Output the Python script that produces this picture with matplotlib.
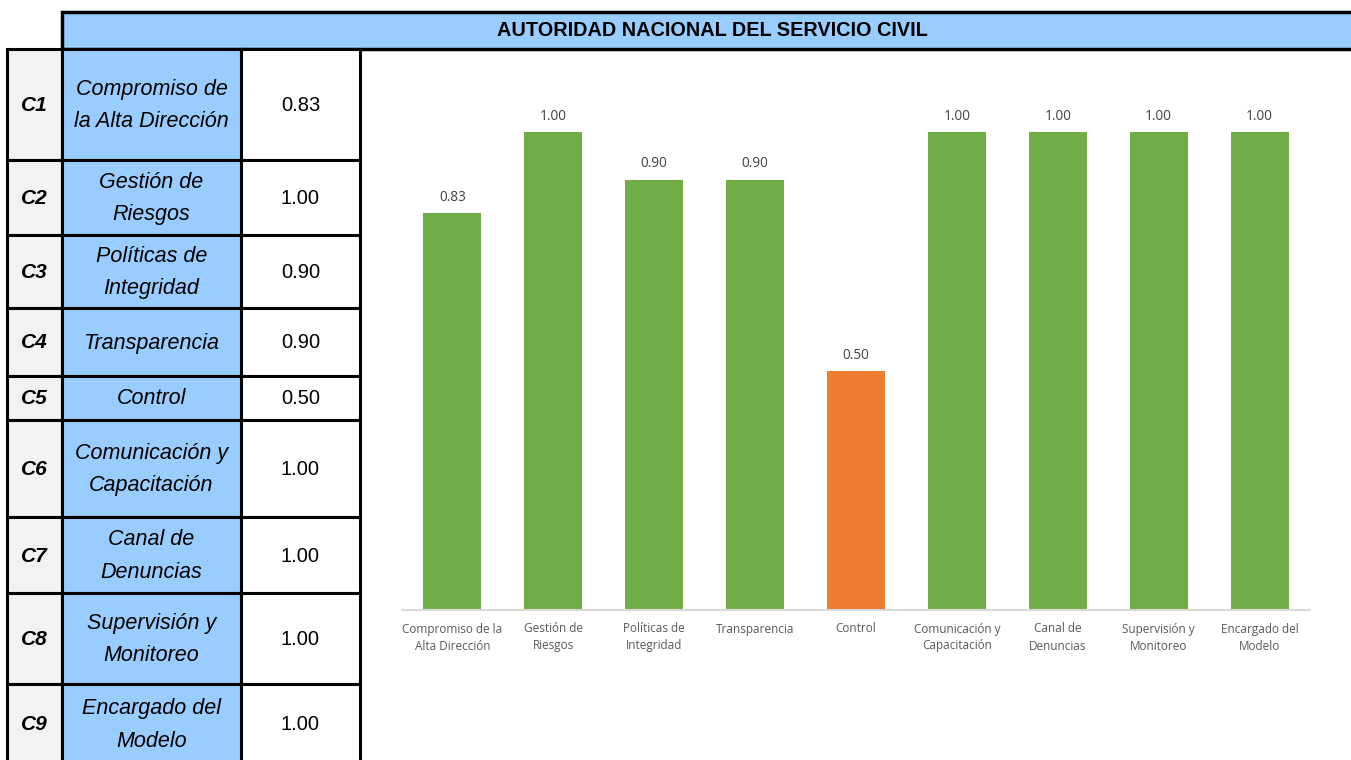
import matplotlib
matplotlib.use("Agg")
import matplotlib.pyplot as plt
from matplotlib.patches import Rectangle

# ---------------- data ----------------
codes = ["C1", "C2", "C3", "C4", "C5", "C6", "C7", "C8", "C9"]
table_names = ["Compromiso de\nla Alta Dirección", "Gestión de\nRiesgos", "Políticas de\nIntegridad",
               "Transparencia", "Control", "Comunicación y\nCapacitación", "Canal de\nDenuncias",
               "Supervisión y\nMonitoreo", "Encargado del\nModelo"]
tick_labels = ["Compromiso de la\nAlta Dirección", "Gestión de\nRiesgos", "Políticas de\nIntegridad",
               "Transparencia", "Control", "Comunicación y\nCapacitación", "Canal de\nDenuncias",
               "Supervisión y\nMonitoreo", "Encargado del\nModelo"]
values = [0.83, 1.00, 0.90, 0.90, 0.50, 1.00, 1.00, 1.00, 1.00]
bar_colors = ["#70AD47", "#70AD47", "#70AD47", "#70AD47", "#ED7D31",
              "#70AD47", "#70AD47", "#70AD47", "#70AD47"]
title = "AUTORIDAD NACIONAL DEL SERVICIO CIVIL"

# ---------------- layout ----------------
W, H = 1351, 760
fig = plt.figure(figsize=(W / 100, H / 100), dpi=100)
bg = fig.add_axes([0, 0, 1, 1])
bg.set_xlim(0, W)
bg.set_ylim(H, 0)
bg.axis("off")

narrow = ["Liberation Sans Narrow", "Liberation Sans", "DejaVu Sans"]
sans = ["Open Sans", "DejaVu Sans"]

# header band
bg.add_patch(Rectangle((62, 12), W - 62 + 5, 37, facecolor="#99CCFF", edgecolor="black", lw=2.5, zorder=2))
bg.text(712, 31, title, ha="center", va="center", fontsize=14.3, fontweight="bold",
        family=narrow, zorder=3)

# table
row_edges = [49, 160, 235, 308, 376, 420, 517, 593, 684, 775]
col_edges = [7, 62, 241, 360]
col_fill = ["#F2F2F2", "#99CCFF", "#FFFFFF"]
for i in range(len(codes)):
    y0, y1 = row_edges[i], row_edges[i + 1]
    for j in range(3):
        bg.add_patch(Rectangle((col_edges[j], y0), col_edges[j + 1] - col_edges[j], y1 - y0,
                               facecolor=col_fill[j], edgecolor="black", lw=2.2, zorder=2))
    yc = (y0 + y1) / 2 + 1 if i < len(codes) - 1 else (y0 + 760) / 2 + 3
    bg.text((col_edges[0] + col_edges[1]) / 2, yc, codes[i], ha="center", va="center",
            fontsize=15, fontweight="bold", style="italic", family=narrow, zorder=3)
    bg.text((col_edges[1] + col_edges[2]) / 2, yc, table_names[i], ha="center", va="center",
            fontsize=15.5, style="italic", family=narrow, linespacing=1.72, zorder=3)
    bg.text((col_edges[2] + col_edges[3]) / 2, yc, f"{values[i]:.2f}", ha="center", va="center",
            fontsize=14.5, family=narrow, zorder=3)

# chart
x0, x1 = 402, 1310
ybase = 610
ymax = 1.1
px_per_unit = 478
top = ybase - ymax * px_per_unit
ax = fig.add_axes([x0 / W, 1 - ybase / H, (x1 - x0) / W, (ybase - top) / H])
xs = list(range(len(values)))
bars = ax.bar(xs, values, width=0.575, color=bar_colors, zorder=2)
ax.set_xlim(-0.5, len(values) - 0.5)
ax.set_ylim(0, ymax)
for s in ["top", "right", "left"]:
    ax.spines[s].set_visible(False)
ax.spines["bottom"].set_color("#D9D9D9")
ax.spines["bottom"].set_linewidth(1.5)
ax.set_yticks([])
ax.set_xticks(xs)
ax.set_xticklabels(tick_labels, fontsize=8.5, color="#595959", linespacing=1.4, family=sans)
ax.tick_params(axis="x", length=0, pad=9)
ax.patch.set_alpha(0)
for b, v in zip(bars, values):
    ax.annotate(f"{v:.2f}", (b.get_x() + b.get_width() / 2, v), xytext=(0, 6),
                textcoords="offset points", ha="center", va="bottom", fontsize=9.8,
                color="#404040", family=sans)

fig.savefig("out.png", dpi=100)
